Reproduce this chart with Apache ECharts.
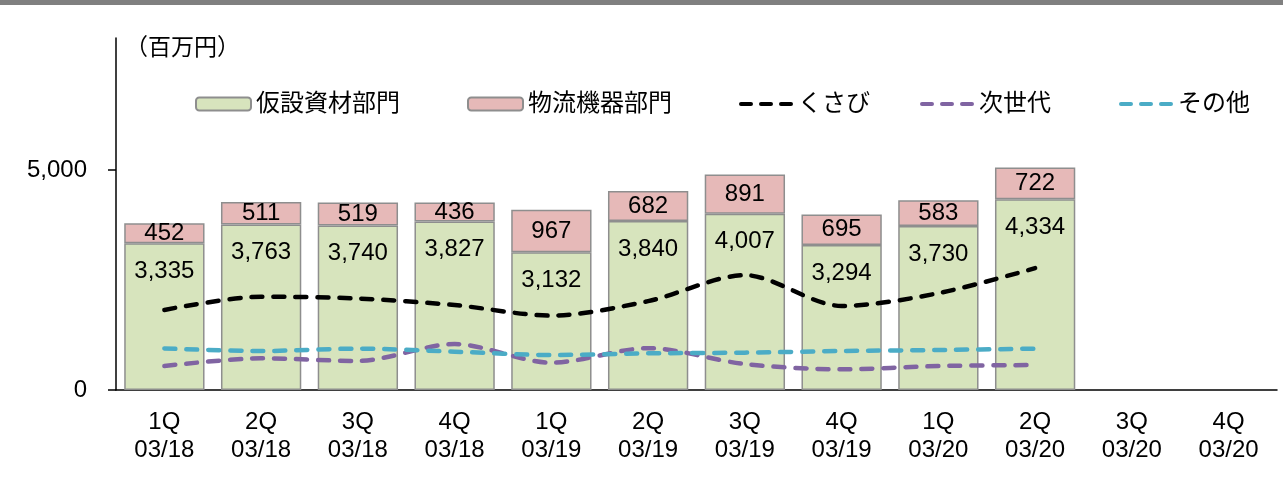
<!DOCTYPE html>
<html>
<head>
<meta charset="utf-8">
<script src="https://cdn.jsdelivr.net/npm/echarts@6/dist/echarts.min.js"></script>
<style>
  html, body { margin: 0; padding: 0; background: #fff; }
  #main { width: 1283px; height: 485px; }
</style>
</head>
<body>
<div id="main"></div>
<script>
// 四半期
var quarters = ['1Q\n03/18', '2Q\n03/18', '3Q\n03/18', '4Q\n03/18',
  '1Q\n03/19', '2Q\n03/19', '3Q\n03/19', '4Q\n03/19',
  '1Q\n03/20', '2Q\n03/20', '3Q\n03/20', '4Q\n03/20'];
// 仮設資材部門 / 物流機器部門 (百万円)
var kasetsu = [3335, 3763, 3740, 3827, 3132, 3840, 4007, 3294, 3730, 4334, null, null];
var butsuryu = [452, 511, 519, 436, 967, 682, 891, 695, 583, 722, null, null];
// 内訳 (折れ線, 図から読み取り)
var kusabi = [1820, 2120, 2080, 1930, 1690, 2020, 2610, 1910, 2200, 2770, null, null];
var jisedai = [545, 720, 660, 1045, 620, 950, 590, 470, 545, 568, null, null];
var sonota = [945, 886, 940, 871, 795, 833, 849, 886, 909, 940, null, null];
var yTicks = [0, 5000];

var font = '"Liberation Sans", "Noto Sans CJK JP", sans-serif';
var fmt = function (v) { return Number(v).toLocaleString('en-US'); };
var dashIcon = 'path://M2,0h10a2,2 0 0 1 0,4h-10a2,2 0 0 1 0,-4z' +
  'M22,0h10a2,2 0 0 1 0,4h-10a2,2 0 0 1 0,-4z' +
  'M42,0h10a2,2 0 0 1 0,4h-10a2,2 0 0 1 0,-4z';

var myChart = echarts.init(document.getElementById('main'));

var lineSeries = function (name, data, color) {
  return {
    name: name,
    type: 'line',
    data: data,
    smooth: 0.3,
    symbol: 'none',
    z: 5,
    lineStyle: { color: color, width: 4.5, type: [11, 11], cap: 'round' },
    itemStyle: { color: color }
  };
};

// 凡例は項目ごとに配置
var legendItem = function (name, left, isLine) {
  var l = {
    left: left,
    top: 87,
    itemWidth: isLine ? 54 : 55,
    itemHeight: isLine ? 4 : 13,
    textStyle: { fontSize: 24, color: '#000', fontFamily: font },
    data: [isLine ? { name: name, icon: dashIcon } : name]
  };
  if (isLine) l.itemStyle = { borderWidth: 0 };
  return l;
};

var option = {
  backgroundColor: '#fff',
  animation: false,
  textStyle: { fontFamily: font },
  grid: { left: 116, right: 6, top: 38, bottom: 95 },
  graphic: [
    { type: 'rect', left: 0, top: 0, shape: { width: 1283, height: 5 }, style: { fill: '#808080' } },
    { type: 'text', left: 125, top: 37, style: { text: '（百万円）', font: '23px ' + font, fill: '#000' } }
  ],
  legend: [
    legendItem('仮設資材部門', 190, false),
    legendItem('物流機器部門', 462, false),
    legendItem('くさび', 734, true),
    legendItem('次世代', 915, true),
    legendItem('その他', 1114, true)
  ],
  xAxis: {
    type: 'category',
    data: quarters,
    axisLine: { lineStyle: { color: '#000', width: 1.5 } },
    axisTick: { length: 8, lineStyle: { color: '#000', width: 1.5 } },
    axisLabel: { color: '#000', fontSize: 24, lineHeight: 28, margin: 18, interval: 0, fontFamily: font }
  },
  yAxis: {
    type: 'value',
    min: 0,
    max: 8000,
    splitLine: { show: false },
    axisLine: { show: true, lineStyle: { color: '#000', width: 1.5 } },
    axisTick: { show: true, length: 8, inside: false, customValues: yTicks, lineStyle: { color: '#000', width: 1.5 } },
    axisLabel: { color: '#000', fontSize: 24, margin: 29, customValues: yTicks, formatter: fmt, fontFamily: font }
  },
  series: [
    {
      name: '仮設資材部門',
      type: 'bar',
      stack: 'sales',
      data: kasetsu,
      barCategoryGap: '17%',
      itemStyle: { color: '#D7E4BD', borderColor: '#8E8E8E', borderWidth: 1.5 },
      label: {
        show: true, position: 'insideTop', distance: 16,
        color: '#000', fontSize: 24, fontFamily: font,
        formatter: function (p) { return fmt(p.value); }
      }
    },
    {
      name: '物流機器部門',
      type: 'bar',
      stack: 'sales',
      data: butsuryu,
      itemStyle: { color: '#E6B9B8', borderColor: '#8E8E8E', borderWidth: 1.5 },
      label: {
        show: true, position: 'inside',
        color: '#000', fontSize: 24, fontFamily: font,
        formatter: function (p) { return fmt(p.value); }
      }
    },
    lineSeries('くさび', kusabi, '#000000'),
    lineSeries('次世代', jisedai, '#8064A2'),
    lineSeries('その他', sonota, '#4BACC6')
  ]
};
option && myChart.setOption(option);
</script>
</body>
</html>
